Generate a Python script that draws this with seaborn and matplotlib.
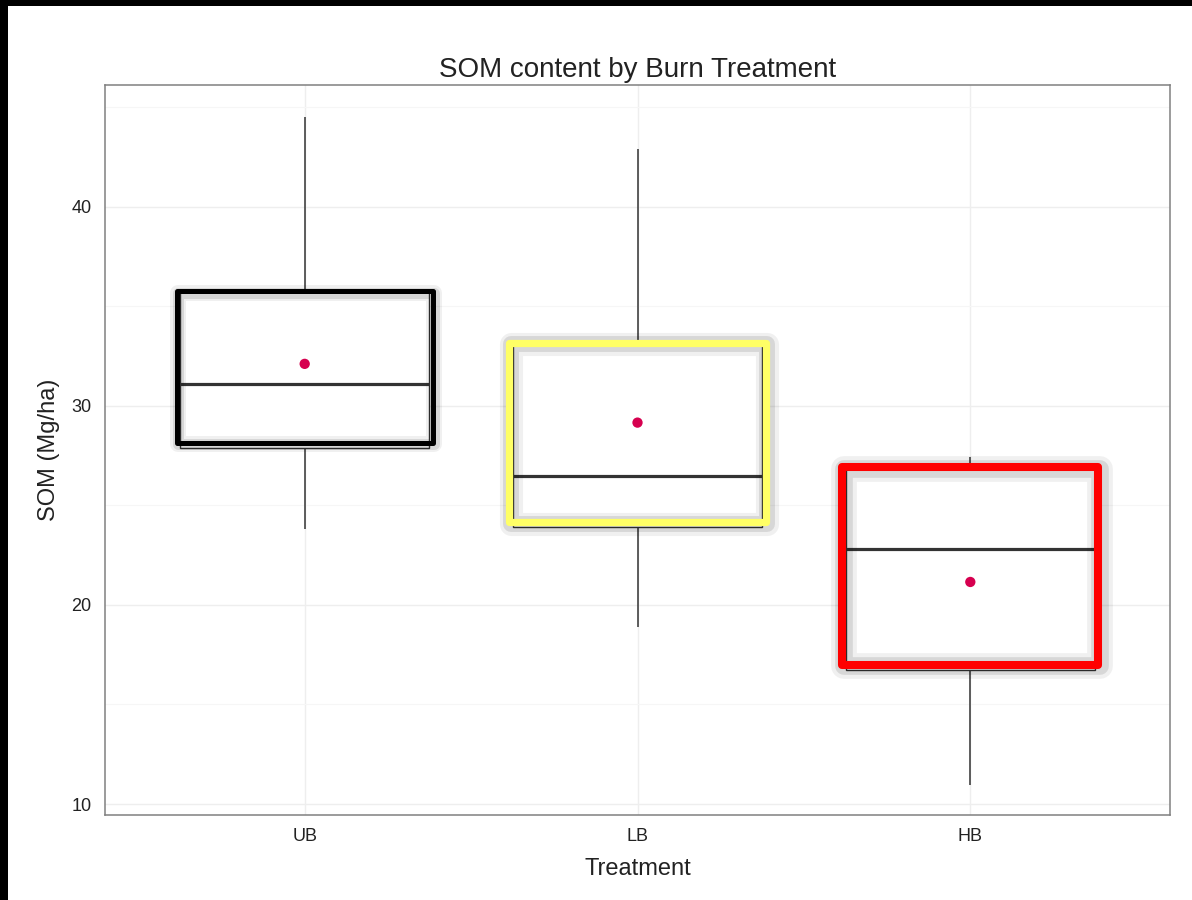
#import necessary libraries

import pandas as pd
import numpy as np
import matplotlib.pyplot as plt
import matplotlib.patheffects as pe
from matplotlib.patches import Rectangle
from matplotlib.ticker import MultipleLocator
import seaborn as sns

#summary values (Mg/ha)

treatments = ["UB", "LB", "HB"]
whisker_low = [23.8, 18.9, 10.95]
q1 = [27.9, 23.9, 16.75]
median = [31.1, 26.45, 22.8]
q3 = [35.75, 33.15, 26.9]
whisker_high = [44.5, 42.9, 27.4]
means = [32.1, 29.15, 21.15]
highlight_colors = ["black", "#ffff66", "#ff0000"]

#long table: five-number summary per treatment

rows = []
for i, t in enumerate(treatments):
    for v in [whisker_low[i], q1[i], median[i], q3[i], whisker_high[i]]:
        rows.append({"Treatment": t, "SOM": v})
df = pd.DataFrame(rows)
mean_df = pd.DataFrame({"Treatment": treatments, "SOM": means})

#plot

sns.set_theme(style="white")
plt.rcParams["font.family"] = ["Liberation Sans", "DejaVu Sans"]

fig = plt.figure(figsize=(11.92, 9), dpi=100)
fig.patch.set_facecolor("black")
fig.add_artist(Rectangle((8 / 1192, 0), 1, 1 - 6 / 900, transform=fig.transFigure,
                         facecolor="white", edgecolor="none", zorder=-10))
ax = fig.add_axes([105 / 1192, 1 - 815 / 900, 1065 / 1192, 730 / 900])
ax.set_facecolor("white")

sns.boxplot(data=df, x="Treatment", y="SOM", order=treatments, ax=ax,
            width=0.75, color="white", showcaps=False, fliersize=0,
            boxprops=dict(edgecolor="#333333", linewidth=1.0, facecolor="white"),
            whiskerprops=dict(color="#333333", linewidth=1.1),
            medianprops=dict(color="#333333", linewidth=2.3),
            zorder=3)

sns.scatterplot(data=mean_df, x="Treatment", y="SOM", ax=ax, color="#d6004f",
                s=55, marker="o", edgecolor="none", zorder=5)

#highlight rectangles drawn over the boxes, with a soft shadow
for i, c in enumerate(highlight_colors):
    lw = [3.6, 5.2, 5.8][i]
    rect = Rectangle((i - 0.385, q1[i] + 0.25), 0.77, q3[i] - q1[i] - 0.25,
                     fill=False, edgecolor=c, linewidth=lw, zorder=6,
                     joinstyle="round")
    rect.set_path_effects([
        pe.SimpleLineShadow(offset=(1, -1), shadow_color="black", alpha=0.06,
                            linewidth=lw * 3.2),
        pe.SimpleLineShadow(offset=(1, -1), shadow_color="black", alpha=0.10,
                            linewidth=lw * 2.2),
        pe.Normal()])
    ax.add_patch(rect)

ax.set_xlim(-0.6, 2.6)
ax.set_ylim(9.45, 46.1)
ax.yaxis.set_major_locator(MultipleLocator(10))
ax.yaxis.set_minor_locator(MultipleLocator(5))
ax.grid(True, which="major", color="#eeeeee", linewidth=1.0, zorder=0)
ax.grid(True, which="minor", axis="y", color="#f6f6f6", linewidth=0.8, zorder=0)
ax.set_axisbelow(True)

for s in ax.spines.values():
    s.set_visible(True)
    s.set_color("#808080")
    s.set_linewidth(1.1)

ax.tick_params(axis="both", which="major", direction="out", length=3.6, width=1,
               color="#808080", labelsize=13, labelcolor="#222222", pad=6)
ax.tick_params(axis="y", which="minor", length=0)

ax.set_title("SOM content by Burn Treatment", fontsize=20, color="#222222", pad=6)
ax.set_xlabel("Treatment", fontsize=17, color="#222222", labelpad=9)
ax.set_ylabel("SOM (Mg/ha)", fontsize=17, color="#222222", labelpad=8)

fig.savefig("out.png", dpi=100, facecolor=fig.get_facecolor())
